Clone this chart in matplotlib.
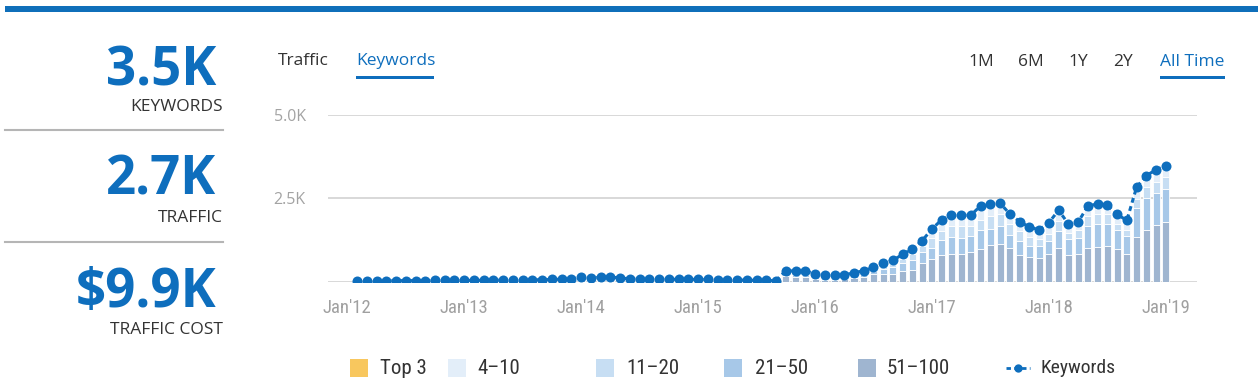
import matplotlib
matplotlib.use('Agg')
import matplotlib.pyplot as plt
import pandas as pd
from matplotlib.patches import Rectangle
from matplotlib.lines import Line2D
from matplotlib import font_manager

# ---------------- data ----------------
months = pd.date_range('2012-02-01', '2019-01-01', freq='MS')

keywords = [35, 38, 38, 40, 40, 42, 42, 44, 45, 45, 46,
            48, 50, 52, 55, 58, 60, 62, 65, 70, 75,
            85, 95, 140, 110, 150, 150, 120,
            95, 90, 88, 85, 82, 80, 80, 78,
            75, 72, 70, 60, 55, 50, 45, 40,
            336, 330, 330, 248, 208, 208, 208, 277, 336, 437, 565, 645,
            833, 991, 1240, 1587, 1866, 1994, 1994, 2003, 2283, 2330, 2360,
            2033, 1806, 1646, 1568, 1776, 2152, 1736, 1796, 2271, 2340,
            2310, 2024, 1845, 2837, 3184, 3363, 3472]

pos_51_100 = [18, 19, 19, 20, 20, 21, 21, 22, 23, 23, 23,
              24, 25, 26, 28, 29, 30, 31, 33, 35, 38,
              43, 48, 70, 55, 75, 75, 60,
              48, 45, 44, 43, 41, 40, 40, 39,
              38, 36, 35, 30, 28, 25, 23, 20,
              170, 160, 160, 100, 70, 70, 80, 120, 160, 228, 230, 250,
              337, 357, 556, 675, 804, 853, 853, 903, 982, 1101, 1151,
              1022, 804, 754, 704, 853, 1022, 804, 853, 1022, 1062,
              1071, 982, 853, 1349, 1567, 1696, 1796]

pos_21_50 = [9, 10, 10, 10, 10, 11, 11, 11, 11, 11, 12,
             12, 13, 13, 14, 15, 15, 16, 16, 18, 19,
             21, 24, 35, 28, 38, 38, 30,
             24, 23, 22, 21, 21, 20, 20, 20,
             19, 18, 18, 15, 14, 13, 11, 10,
             60, 60, 60, 60, 55, 55, 50, 60, 70, 100, 160, 190,
             219, 298, 330, 357, 446, 496, 476, 486, 566, 476, 525,
             377, 416, 327, 377, 377, 506, 496, 476, 654, 674,
             655, 566, 526, 863, 953, 963, 992]

pos_11_20 = [4, 5, 5, 5, 5, 5, 5, 6, 6, 6, 6,
             6, 6, 7, 7, 7, 8, 8, 8, 9, 9,
             11, 12, 18, 14, 19, 19, 15,
             12, 11, 11, 11, 10, 10, 10, 10,
             9, 9, 9, 8, 7, 6, 6, 5,
             50, 50, 50, 40, 40, 40, 40, 45, 50, 50, 90, 105,
             138, 178, 200, 297, 278, 337, 357, 297, 317, 397, 348,
             327, 308, 268, 219, 218, 297, 178, 219, 298, 308,
             298, 198, 169, 278, 317, 347, 347]

pos_4_10 = [4, 4, 4, 5, 5, 5, 5, 5, 5, 5, 5,
            6, 6, 6, 6, 7, 7, 7, 8, 8, 9,
            10, 11, 17, 13, 18, 18, 15,
            11, 11, 11, 10, 10, 10, 10, 9,
            9, 9, 8, 7, 6, 6, 5, 5,
            56, 60, 60, 48, 43, 43, 38, 52, 56, 59, 85, 100,
            139, 158, 154, 258, 338, 308, 308, 317, 418, 356, 336,
            307, 278, 297, 268, 328, 327, 258, 248, 297, 296,
            286, 278, 297, 347, 347, 357, 337]

top_3 = [0] * 84

tick_labels = ["Jan'12", "Jan'13", "Jan'14", "Jan'15", "Jan'16", "Jan'17", "Jan'18", "Jan'19"]
tick_dates = ['2012-01-01', '2013-01-01', '2014-01-01', '2015-01-01',
              '2016-01-01', '2017-01-01', '2018-01-01', '2019-01-01']
y_ticks = [0, 2500, 5000]
y_tick_labels = ['', '2.5K', '5.0K']

summary_values = ['3.5K', '2.7K', '$9.9K']
summary_labels = ['KEYWORDS', 'TRAFFIC', 'TRAFFIC COST']
left_tabs = ['Traffic', 'Keywords']
right_tabs = ['1M', '6M', '1Y', '2Y', 'All Time']
legend_labels = ['Top 3', '4\u201310', '11\u201320', '21\u201350', '51\u2013100', 'Keywords']


# ---------------- style ----------------
def pick(names):
    for n in names:
        try:
            font_manager.findfont(font_manager.FontProperties(family=n),
                                  fallback_to_default=False)
            return n
        except Exception:
            pass
    return 'DejaVu Sans'


W, H = 1258, 389
BLUE = '#0e6ebd'
C_TOP3 = '#f8c75e'
C_4_10 = '#e3eef9'
C_11_20 = '#c7def3'
C_21_50 = '#a7c8e8'
C_51_100 = '#9fb5d0'
NARROW = [pick(['Liberation Sans Narrow', 'Roboto Condensed', 'Open Sans Condensed',
                'Liberation Sans']), 'DejaVu Sans']
SANS = ['Open Sans', 'DejaVu Sans']

fig = plt.figure(figsize=(W / 100, H / 100), dpi=100)
fig.patch.set_facecolor('white')


def fx(x):
    return x / W


def fy(y):
    return 1 - y / H


# top blue bar
fig.add_artist(Rectangle((fx(5), fy(12)), fx(W) - fx(5), 6 / H, transform=fig.transFigure,
                         color='#0f6fba', lw=0))

# left summary panel
big_base = [85, 195, 307]
small_base = [111, 222, 334]
for v, lab, yb, ys in zip(summary_values, summary_labels, big_base, small_base):
    fig.text(fx(216), fy(yb), v, ha='right', va='baseline', fontsize=38,
             fontweight='bold', color=BLUE, family=SANS)
    fig.text(fx(223), fy(ys), lab, ha='right', va='baseline', fontsize=12.5,
             color='#333333', family=SANS)
for yl in [130, 242]:
    fig.add_artist(Line2D([fx(5), fx(223)], [fy(yl), fy(yl)], transform=fig.transFigure,
                          color='#b5b5b5', lw=1.5))

# tabs
fig.text(fx(278), fy(65), left_tabs[0], ha='left', va='baseline', fontsize=12.5,
         color='#333333', family=SANS)
fig.text(fx(356), fy(65), left_tabs[1], ha='left', va='baseline', fontsize=12.5,
         color=BLUE, family=SANS)
fig.add_artist(Rectangle((fx(356), fy(79)), fx(434) - fx(356), 3 / H,
                         transform=fig.transFigure, color=BLUE, lw=0))
rt_x = [968, 1018, 1068, 1113, 1160]
for t, xx in zip(right_tabs, rt_x):
    fig.text(fx(xx), fy(66), t, ha='left', va='baseline', fontsize=12.5,
             color=BLUE if t == 'All Time' else '#333333', family=SANS)
fig.add_artist(Rectangle((fx(1160), fy(79)), fx(1225) - fx(1160), 3 / H,
                         transform=fig.transFigure, color=BLUE, lw=0))

# ---------------- chart ----------------
ax = fig.add_axes([fx(328), fy(282), fx(1197) - fx(328), (282 - 115) / H])
x = list(range(len(months)))
m0 = months[0]


def month_index(d):
    d = pd.Timestamp(d)
    return (d.year - m0.year) * 12 + (d.month - m0.month)


bw = 0.72
bottom = [0] * len(x)
for vals, col in [(pos_51_100, C_51_100), (pos_21_50, C_21_50), (pos_11_20, C_11_20),
                  (pos_4_10, C_4_10), (top_3, C_TOP3)]:
    ax.bar(x, vals, width=bw, bottom=bottom, color=col, edgecolor='white',
           linewidth=0.6, zorder=3)
    bottom = [b + v for b, v in zip(bottom, vals)]

ax.plot(x, keywords, color=BLUE, lw=2.2, ls=(0, (1.6, 1.2)), zorder=5)
ax.plot(x, keywords, ls='none', marker='o', ms=7.2, mfc=BLUE, mec='none', zorder=6)

ax.set_ylim(0, 5000)
ax.set_xlim(-2.98, 86.2)
for s in ax.spines.values():
    s.set_visible(False)
ax.set_yticks(y_ticks)
ax.set_yticklabels(y_tick_labels, family=SANS, fontsize=11.5, color='#a3a3a3')
ax.yaxis.grid(True, color='#d2d2d2', lw=1.2, zorder=0)
ax.tick_params(axis='y', length=0, pad=16)
ax.set_xticks([month_index(d) for d in tick_dates])
ax.set_xticklabels(tick_labels, family=NARROW, fontsize=13.5, color='#a0a0a0')
ax.tick_params(axis='x', length=0, pad=12)
ax.set_facecolor('none')

# ---------------- legend ----------------
leg_y = 368
sq_x = [350, 448, 596, 724, 858]
txt_x = [380, 477, 626, 755, 887]
cols = [C_TOP3, C_4_10, C_11_20, C_21_50, C_51_100]
for sx, tx, c, lab in zip(sq_x, txt_x, cols, legend_labels[:5]):
    fig.add_artist(Rectangle((fx(sx), fy(leg_y + 9)), 18 / W, 18 / H,
                             transform=fig.transFigure, color=c, lw=0))
    fig.text(fx(tx), fy(leg_y), lab, ha='left', va='center', fontsize=15,
             color='#333333', family=NARROW)
fig.add_artist(Line2D([fx(1006), fx(1030)], [fy(leg_y), fy(leg_y)], transform=fig.transFigure,
                      color=BLUE, lw=2, ls=(0, (1.6, 1.2))))
fig.add_artist(Line2D([fx(1018)], [fy(leg_y)], transform=fig.transFigure, marker='o',
                      ms=6, mfc=BLUE, mec='none', ls='none'))
fig.text(fx(1040), fy(leg_y), legend_labels[5], ha='left', va='center', fontsize=14,
         color='#333333', family=NARROW)

fig.savefig('out.png', dpi=100)
